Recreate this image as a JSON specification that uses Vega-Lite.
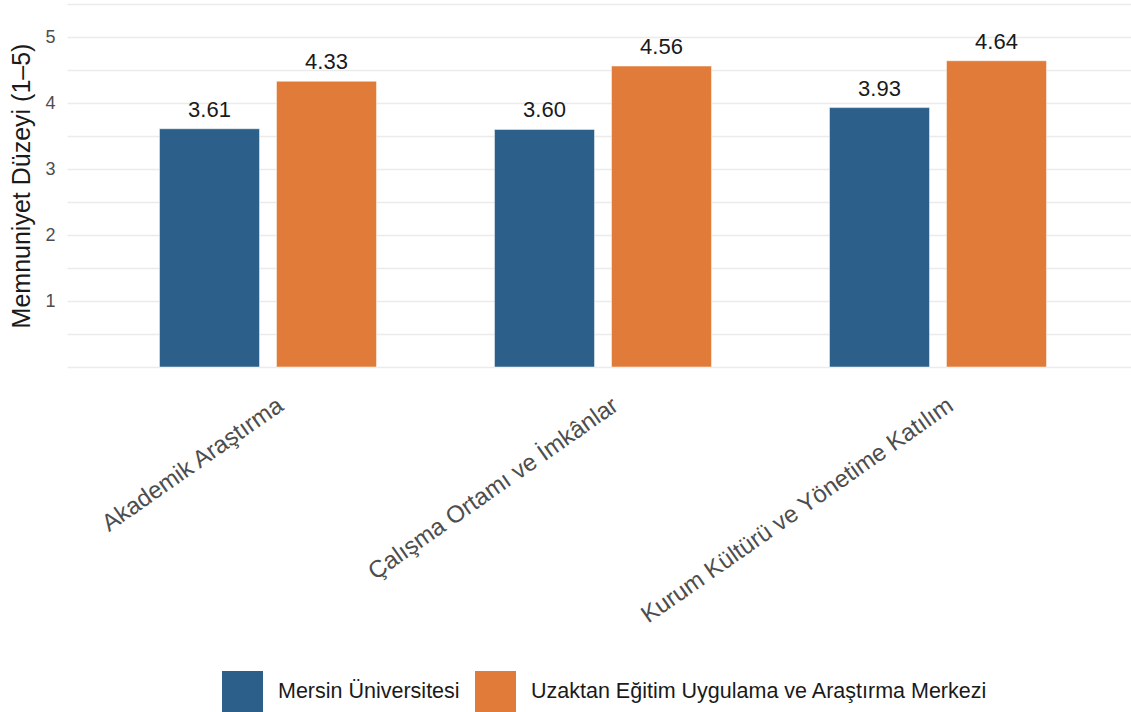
{
  "$schema": "https://vega.github.io/schema/vega-lite/v6.json",
  "autosize": {"type": "none"},
  "width": 1064,
  "height": 363,
  "padding": {"left": 67, "top": 4, "right": 0, "bottom": 345},
  "background": "white",
  "config": {
    "view": {"stroke": null},
    "font": "Liberation Sans"
  },
  "data": {
    "values": [
      {"kategori": "Akademik Araştırma", "kurum": "Mersin Üniversitesi", "deger": 3.61},
      {"kategori": "Akademik Araştırma", "kurum": "Uzaktan Eğitim Uygulama ve Araştırma Merkezi", "deger": 4.33},
      {"kategori": "Çalışma Ortamı ve İmkânlar", "kurum": "Mersin Üniversitesi", "deger": 3.60},
      {"kategori": "Çalışma Ortamı ve İmkânlar", "kurum": "Uzaktan Eğitim Uygulama ve Araştırma Merkezi", "deger": 4.56},
      {"kategori": "Kurum Kültürü ve Yönetime Katılım", "kurum": "Mersin Üniversitesi", "deger": 3.93},
      {"kategori": "Kurum Kültürü ve Yönetime Katılım", "kurum": "Uzaktan Eğitim Uygulama ve Araştırma Merkezi", "deger": 4.64}
    ]
  },
  "encoding": {
    "x": {
      "field": "kategori",
      "type": "nominal",
      "sort": null,
      "scale": {"type": "band", "range": [0, 1072], "paddingInner": 0, "paddingOuter": 0.1},
      "axis": {
        "title": null,
        "domain": false,
        "ticks": false,
        "labelAngle": -35,
        "labelAlign": "right",
        "labelBaseline": "top",
        "labelPadding": 26,
        "labelOffset": 6,
        "labelFontSize": 24,
        "labelColor": "#4D4D4D",
        "labelLimit": 0
      }
    },
    "xOffset": {
      "field": "kurum",
      "type": "nominal",
      "sort": null,
      "scale": {"paddingInner": 0.145, "paddingOuter": 0.504}
    },
    "y": {
      "field": "deger",
      "type": "quantitative",
      "scale": {"domain": [0, 5.5], "nice": false, "zero": true},
      "axis": {
        "title": "Memnuniyet Düzeyi (1–5)",
        "titleFontSize": 25,
        "titleFontWeight": "normal",
        "titleColor": "#1A1A1A",
        "titlePadding": 10,
        "values": [0, 0.5, 1, 1.5, 2, 2.5, 3, 3.5, 4, 4.5, 5, 5.5],
        "labelExpr": "datum.value % 1 == 0 && datum.value > 0 ? format(datum.value, 'd') : ''",
        "labelFontSize": 18,
        "labelColor": "#4D4D4D",
        "labelPadding": 12,
        "domain": false,
        "ticks": false,
        "grid": true,
        "gridColor": "#EBEBEB",
        "gridWidth": 1.5
      }
    }
  },
  "layer": [
    {
      "mark": {"type": "bar", "stroke": "white", "strokeWidth": 0.5},
      "encoding": {
        "color": {
          "field": "kurum",
          "type": "nominal",
          "sort": null,
          "scale": {
            "domain": ["Mersin Üniversitesi", "Uzaktan Eğitim Uygulama ve Araştırma Merkezi"],
            "range": ["#2C5F8A", "#E07B39"]
          },
          "legend": {
            "title": null,
            "orient": "none",
            "legendX": 155,
            "legendY": 667,
            "direction": "horizontal",
            "symbolType": "square",
            "symbolSize": 1681,
            "symbolStrokeWidth": 0,
            "labelFontSize": 21.5,
            "labelColor": "#1A1A1A",
            "labelOffset": 15,
            "labelLimit": 0,
            "columnPadding": 15
          }
        }
      }
    },
    {
      "mark": {"type": "text", "baseline": "bottom", "dy": -7, "fontSize": 22, "color": "#1A1A1A"},
      "encoding": {
        "text": {"field": "deger", "type": "quantitative", "format": ".2f"}
      }
    }
  ]
}
